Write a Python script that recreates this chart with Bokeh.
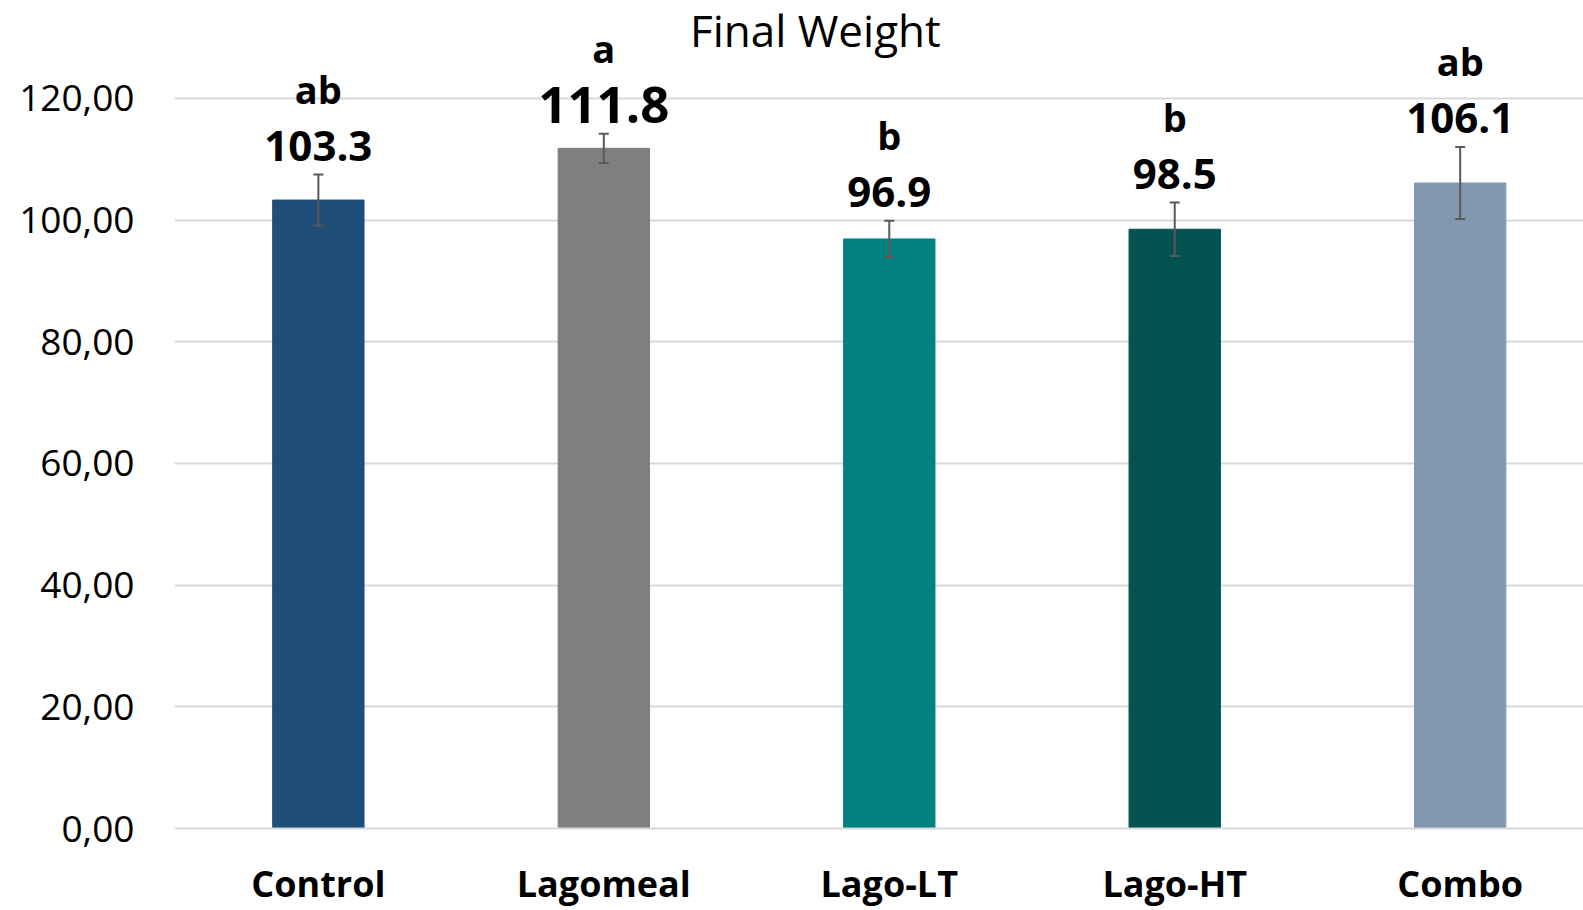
import numpy as np
from bokeh.plotting import figure
from bokeh.models import (Range1d, FixedTicker, Whisker, TeeHead, ColumnDataSource, Label)
from bokeh.core.properties import value, field
from bokeh.embed import file_html
from bokeh.resources import INLINE

# ---- data ----
categories = ["Control", "Lagomeal", "Lago-LT", "Lago-HT", "Combo"]
means = [103.3, 111.8, 96.9, 98.5, 106.1]
errors = [4.2, 2.4, 3.0, 4.4, 5.9]
value_labels = ["103.3", "111.8", "96.9", "98.5", "106.1"]
letters = ["ab", "a", "b", "b", "ab"]
y_ticks = [0, 20, 40, 60, 80, 100, 120]
y_tick_labels = ["0,00", "20,00", "40,00", "60,00", "80,00", "100,00", "120,00"]
title_text = "Final Weight"

# ---- styles ----
bar_colors = ["#1F4E79", "#7F7F7F", "#008080", "#03524F", "#8497B0"]
value_font_sizes = ["42px", "51px", "42px", "42px", "42px"]
FONT = "Open Sans"
LABEL_GAP = 4.75    # data units above error bar top (value label)
LETTER_GAP = 14.1   # data units above error bar top (letters)

x = np.arange(len(categories))
means_a = np.array(means)
err_a = np.array(errors)
upper = means_a + err_a
lower = means_a - err_a
vy = upper + LABEL_GAP
ly = upper + LETTER_GAP

src = ColumnDataSource(dict(
    x=x, top=means_a, color=bar_colors, upper=upper, lower=lower,
    vy=vy, ly=ly, vlabel=value_labels, letter=letters, fsize=value_font_sizes,
))

p = figure(width=1583, height=910,
           x_range=Range1d(-0.504, 4.432), y_range=Range1d(0, 136.1),
           output_backend="svg", toolbar_location=None,
           min_border_left=174, min_border_right=0, min_border_top=0,
           min_border_bottom=79)
p.outline_line_color = None
p.background_fill_color = "white"
p.border_fill_color = "white"

p.vbar(x="x", top="top", bottom=0, width=0.32, fill_color="color",
       line_color="color", source=src)

w = Whisker(base="x", upper="upper", lower="lower", source=src,
            dimension="height", line_color="#595959", line_width=2,
            upper_head=TeeHead(size=10, line_color="#595959", line_width=2),
            lower_head=TeeHead(size=10, line_color="#595959", line_width=2),
            level="overlay")
p.add_layout(w)

p.text(x="x", y="vy", text="vlabel", source=src, text_font=value(FONT),
       text_font_style="bold", text_font_size=field("fsize"),
       text_align="center", text_baseline="alphabetic", text_color="black")
p.text(x="x", y="ly", text="letter", source=src, text_font=value(FONT),
       text_font_style="bold", text_font_size="38px",
       text_align="center", text_baseline="alphabetic", text_color="black")

title = Label(x=1.741, y=131.2, text=title_text, text_font=FONT,
              text_font_size="44px", text_align="center",
              text_baseline="alphabetic", text_color="#000000")
p.add_layout(title)

# axes
p.yaxis.ticker = FixedTicker(ticks=y_ticks)
p.yaxis.major_label_overrides = {t: l for t, l in zip(y_ticks, y_tick_labels)}
p.yaxis.axis_line_color = None
p.yaxis.major_tick_line_color = None
p.yaxis.minor_tick_line_color = None
p.yaxis.major_tick_out = 0
p.yaxis.major_tick_in = 0
p.yaxis.major_label_standoff = 40
p.yaxis.major_label_text_font = FONT
p.yaxis.major_label_text_font_size = "37px"
p.yaxis.major_label_text_color = "black"

p.xaxis.ticker = FixedTicker(ticks=list(x))
p.xaxis.major_label_overrides = {int(i): c for i, c in zip(x, categories)}
p.xaxis.axis_line_color = "#d9d9d9"
p.xaxis.axis_line_width = 2
p.xaxis.major_tick_line_color = None
p.xaxis.minor_tick_line_color = None
p.xaxis.major_tick_out = 0
p.xaxis.major_tick_in = 0
p.xaxis.major_label_standoff = 30
p.xaxis.major_label_text_font = FONT
p.xaxis.major_label_text_font_style = "bold"
p.xaxis.major_label_text_font_size = "36px"
p.xaxis.major_label_text_color = "black"

p.xgrid.grid_line_color = None
p.ygrid.grid_line_color = "#d9d9d9"
p.ygrid.grid_line_width = 2

open("out.html", "w").write(file_html(p, INLINE))
